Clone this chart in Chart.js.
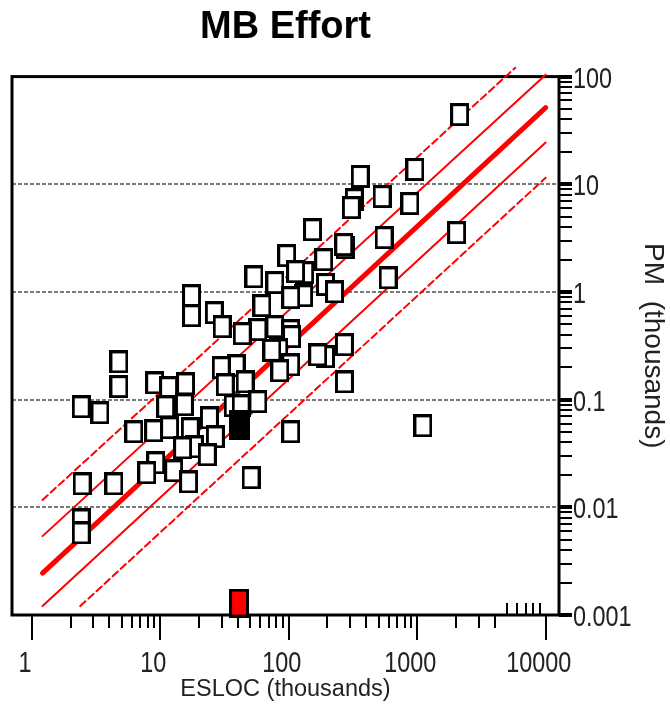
<!DOCTYPE html>
<html>
<head>
<meta charset="utf-8">
<script src="https://cdn.jsdelivr.net/npm/chart.js@4/dist/chart.umd.min.js"></script>
<style>
  html, body { margin: 0; padding: 0; background: #fff; }
</style>
</head>
<body>
<canvas id="chart" width="670" height="719" style="width:670px;height:719px"></canvas>
<script>
// projects (both in thousands)
const esloc = [2140, 959, 360, 324, 533, 877, 307, 153, 276, 552, 2028, 96.4, 187, 53.6, 133, 593,
  78.0, 193, 227, 17.5, 17.5, 130.6, 103.5, 61.8, 26.3, 30.3, 78.0, 57.5, 103.5, 43.4, 105, 271,
  193, 83.7, 73.9, 103.5, 38.9, 29.8, 85.2, 4.76, 4.76, 9.03, 11.6, 15.7, 32.0, 45.7, 271, 2.42,
  3.39, 11.0, 15.4, 24.1, 36.9, 42.6, 57.5, 6.22, 8.87, 11.8, 17.1, 26.8, 103.5, 1107, 18.4, 14.9,
  23.2, 9.20, 12.7, 7.84, 16.6, 50.8, 2.46, 4.35, 2.42, 2.42, 113, 268, 168];
const pm = [44.3, 13.7, 11.8, 7.19, 7.67, 6.61, 6.06, 3.78, 2.58, 3.19, 3.55, 2.17, 1.99, 1.38, 1.51, 1.35,
  1.22, 1.17, 1.00, 0.922, 0.601, 0.922, 0.884, 0.745, 0.641, 0.475, 0.475, 0.446, 0.436, 0.409, 0.384, 0.323,
  0.250, 0.290, 0.287, 0.210, 0.206, 0.198, 0.185, 0.224, 0.132, 0.143, 0.129, 0.140, 0.137, 0.146, 0.146, 0.0857,
  0.0754, 0.0857, 0.0895, 0.0677, 0.0876, 0.0876, 0.0955, 0.0502, 0.0513, 0.0547, 0.0536, 0.0451, 0.0502, 0.0571, 0.0364, 0.0356,
  0.0307, 0.0259, 0.0218, 0.0209, 0.0172, 0.0188, 0.0165, 0.0165, 0.00763, 0.00578, 1.54, 2.75, 0.26];

// the dark blob and the red one sitting on the x axis
const denseX = [41.0], denseY = [0.058];
const redX = [41.0], redY = [0.00129];

// regression line and the 1 / 2 sigma lines (end points)
const fitX = [1.21, 10000], fitY = [0.00245, 51.5];
const up1X = [1.21, 10000], up1Y = [0.0054, 104];
const lo1X = [1.21, 10000], lo1Y = [0.00121, 24.4];
const up2X = [1.21, 5800], up2Y = [0.0117, 121];
const lo2X = [2.38, 10000], lo2Y = [0.00121, 11.5];

const xTickValues = [1, 10, 100, 1000, 10000];
const xTickLabels = ['1', '10', '100', '1000', '10000'];
const yTickValues = [0.001, 0.01, 0.1, 1, 10, 100];
const yTickLabels = ['0.001', '0.01', '0.1', '1', '10', '100'];

const sans = "'Liberation Sans', Arial, sans-serif";

const pts = (xs, ys) => xs.map((x, i) => ({ x: x, y: ys[i] }));

function boxMarker(w, h, fill) {
  const c = document.createElement('canvas');
  c.width = w + 3;
  c.height = h + 3;
  const g = c.getContext('2d');
  g.fillStyle = fill;
  g.strokeStyle = '#000';
  g.lineWidth = 3;
  g.fillRect(1.5, 1.5, w, h);
  g.strokeRect(1.5, 1.5, w, h);
  return c;
}

// 1..9 in every decade between the labelled ticks
function decadeTicks(majors) {
  const out = [];
  majors.forEach((d, i) => {
    out.push({ value: d });
    if (i < majors.length - 1) {
      for (let m = 2; m <= 9; m++) out.push({ value: d * m });
    }
  });
  return out;
}

// tick labels are tall and narrow in the original, so squeeze them a bit
function squeezed(ctx, text, x, y, align) {
  ctx.save();
  ctx.translate(x, y);
  ctx.scale(0.78, 1);
  ctx.textAlign = align;
  ctx.fillText(text, 0, 0);
  ctx.restore();
}

const framePlugin = {
  id: 'frame',
  beforeDatasetsDraw(chart) {
    const { ctx, chartArea: a, scales: { x, y } } = chart;
    ctx.save();
    // dotted grid at the inner decades
    ctx.strokeStyle = '#7a7a7a';
    ctx.lineWidth = 2;
    ctx.setLineDash([4, 2]);
    yTickValues.slice(1, -1).forEach(v => {
      const py = Math.round(y.getPixelForValue(v));
      ctx.beginPath();
      ctx.moveTo(a.left, py);
      ctx.lineTo(a.right, py);
      ctx.stroke();
    });
    ctx.setLineDash([]);
    ctx.strokeStyle = '#000';
    ctx.lineWidth = 2;
    x.ticks.forEach(t => {
      const px = Math.round(x.getPixelForValue(t.value));
      ctx.beginPath();
      ctx.moveTo(px, a.bottom);
      if (xTickValues.includes(t.value)) ctx.lineTo(px, a.bottom + 25);
      else if (t.value > 4000) ctx.lineTo(px, a.bottom - 12);
      else ctx.lineTo(px, a.bottom + 13);
      ctx.stroke();
    });
    y.ticks.forEach(t => {
      const py = Math.round(y.getPixelForValue(t.value));
      ctx.lineWidth = yTickValues.includes(t.value) ? 4 : 2;
      ctx.beginPath();
      ctx.moveTo(a.right, py);
      ctx.lineTo(a.right + 13, py);
      ctx.stroke();
    });
    ctx.lineWidth = 3;
    ctx.strokeRect(a.left, a.top, a.right - a.left, a.bottom - a.top);
    ctx.restore();
  },
  afterDraw(chart) {
    const { ctx, chartArea: a, scales: { x, y } } = chart;
    ctx.save();
    ctx.fillStyle = '#222';
    ctx.font = '30px ' + sans;
    ctx.textBaseline = 'alphabetic';
    xTickValues.forEach((v, i) => {
      squeezed(ctx, xTickLabels[i], x.getPixelForValue(v) - 7, a.bottom + 57, 'center');
    });
    yTickValues.forEach((v, i) => {
      squeezed(ctx, yTickLabels[i], a.right + 14, y.getPixelForValue(v) + 11, 'left');
    });
    ctx.restore();
  }
};

const lineSet = (xs, ys, width, dash) => ({
  data: pts(xs, ys),
  showLine: true,
  pointRadius: 0,
  borderColor: '#ff0000',
  borderWidth: width,
  borderDash: dash,
  borderCapStyle: 'round',
  clip: false,
  order: 5
});

new Chart(document.getElementById('chart'), {
  type: 'scatter',
  data: {
    datasets: [
      { data: pts(redX, redY), pointStyle: boxMarker(17, 26, '#ff0000'), pointRadius: 10, clip: false, order: 0 },
      { data: pts(denseX, denseY), pointStyle: boxMarker(18, 27, '#000'), pointRadius: 10, order: 1 },
      { data: pts(esloc, pm), pointStyle: boxMarker(16, 20, '#fff'), pointRadius: 10, order: 2 },
      lineSet(fitX, fitY, 5, []),
      lineSet(up1X, up1Y, 2, []),
      lineSet(lo1X, lo1Y, 2, []),
      lineSet(up2X, up2Y, 2, [7, 4]),
      lineSet(lo2X, lo2Y, 2, [7, 4])
    ]
  },
  options: {
    responsive: false,
    animation: false,
    events: [],
    layout: { padding: { left: 12, right: 0, top: 0, bottom: 0 } },
    plugins: {
      legend: { display: false },
      tooltip: { enabled: false },
      title: {
        display: true,
        text: 'MB Effort',
        fullSize: false,
        color: '#000',
        font: { family: sans, size: 38, weight: 'bold' },
        padding: { top: 5, bottom: 26 }
      }
    },
    scales: {
      x: {
        type: 'logarithmic',
        position: 'bottom',
        min: 0.747,
        max: 12700,
        grid: { display: false },
        border: { display: false },
        afterBuildTicks: s => { s.ticks = decadeTicks(xTickValues); },
        afterFit: s => { s.height = 104; },
        ticks: { display: false },
        title: {
          display: true,
          text: 'ESLOC (thousands)',
          color: '#222',
          font: { family: sans, size: 23.5 },
          padding: { top: 0, bottom: 15 }
        }
      },
      y: {
        type: 'logarithmic',
        position: 'right',
        min: 0.001,
        max: 100,
        grid: { display: false },
        border: { display: false },
        afterBuildTicks: s => { s.ticks = decadeTicks(yTickValues); },
        afterFit: s => { s.width = 111; },
        ticks: { display: false },
        title: {
          display: true,
          text: 'PM  (thousands)',
          color: '#222',
          font: { family: sans, size: 28 },
          padding: 0
        }
      }
    }
  },
  plugins: [framePlugin]
});
</script>
</body>
</html>
